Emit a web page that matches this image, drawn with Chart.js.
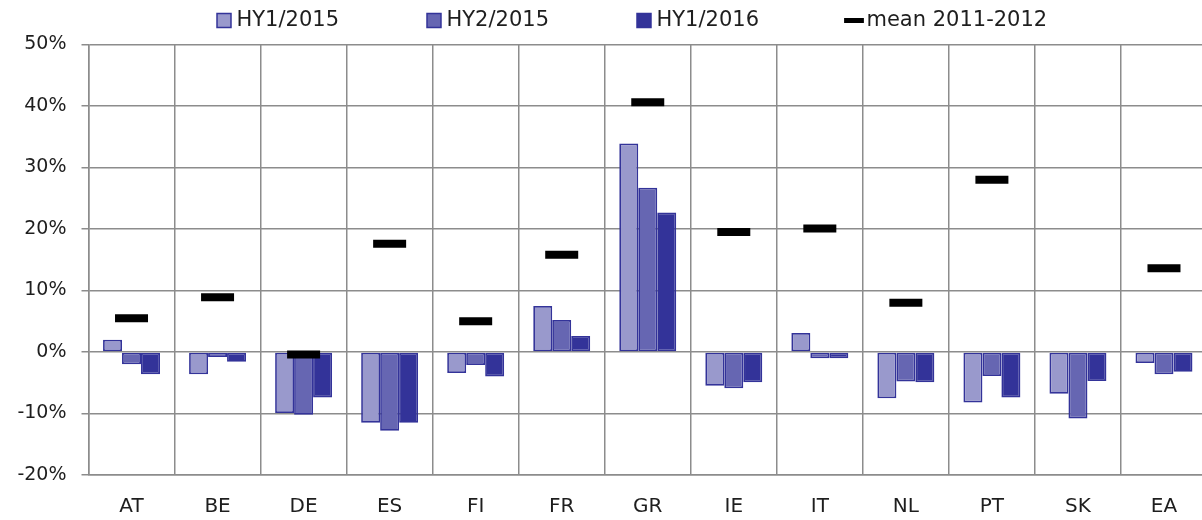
<!DOCTYPE html>
<html>
<head>
<meta charset="utf-8">
<title>HY results vs mean 2011-2012</title>
<script src="https://cdn.jsdelivr.net/npm/chart.js@4/dist/chart.umd.min.js"></script>
<style>
    html, body { margin: 0; padding: 0; background: #ffffff; overflow: hidden; }
    #wrap { width: 1207px; height: 520px; }
</style>
</head>
<body>
<div id="wrap"><canvas id="chart" width="1207" height="520"></canvas></div>
<script>
// ── Data (percent) ──
var countries = ['AT', 'BE', 'DE', 'ES', 'FI', 'FR', 'GR', 'IE', 'IT', 'NL', 'PT', 'SK', 'EA'];
var hy1_2015 = [2.0, -3.6, -9.9, -11.5, -3.4, 7.5, 33.9, -5.5, 3.1, -7.5, -8.2, -6.8, -1.8];
var hy2_2015 = [-2.0, -0.8, -10.2, -12.8, -2.1, 5.2, 26.7, -5.9, -1.0, -4.8, -3.9, -10.8, -3.6];
var hy1_2016 = [-3.6, -1.6, -7.4, -11.5, -4.0, 2.6, 22.7, -4.9, -1.0, -4.9, -7.4, -4.7, -3.2];
var mean_2011_2012 = [5.5, 8.9, -0.4, 17.6, 5.0, 15.8, 40.6, 19.5, 20.1, 8.0, 28.0, null, 13.6];
var seriesNames = ['HY1/2015', 'HY2/2015', 'HY1/2016', 'mean 2011-2012'];
var yTicks = { min: -20, max: 50, step: 10 };

var GRID = '#8c8c8c';
var TEXT = '#1e1e1e';
var EDGE = '#333399';

Chart.defaults.font.family = "'DejaVu Sans', sans-serif";
Chart.defaults.color = TEXT;

var LEGEND_PAD = 93;

// ── Legend placement (keeps the plot area where it belongs) ──
var legendPlace = {
    id: 'legendPlace',
    afterLayout: function (chart) {
        var lg = chart.legend;
        if (!lg) return;
        lg.top = 10 - LEGEND_PAD;
        lg.left = 222 - LEGEND_PAD;
        lg.right = lg.left + 1100;
    }
};

function barSet(label, data, fill) {
    return {
        type: 'bar',
        label: label,
        data: data,
        backgroundColor: fill,
        borderColor: EDGE,
        borderWidth: 1.75,
        borderSkipped: false,
        categoryPercentage: 0.662,
        barPercentage: 1.0
    };
}

new Chart(document.getElementById('chart'), {
    data: {
        labels: countries,
        datasets: [
            barSet(seriesNames[0], hy1_2015, '#9999cc'),
            barSet(seriesNames[1], hy2_2015, '#6666b2'),
            barSet(seriesNames[2], hy1_2016, '#333399'),
            {
                type: 'line',
                label: seriesNames[3],
                data: mean_2011_2012,
                showLine: false,
                order: -1,
                pointStyle: 'line',
                pointRadius: 16.5,
                pointHoverRadius: 16.5,
                pointBorderWidth: 8,
                pointBorderColor: '#000000',
                pointBackgroundColor: '#000000',
                borderColor: '#000000',
                backgroundColor: '#000000'
            }
        ]
    },
    options: {
        responsive: false,
        animation: false,
        layout: { padding: 0, autoPadding: false },
        plugins: {
            tooltip: { enabled: false },
            legend: {
                position: 'top',
                align: 'start',
                maxHeight: 44.5,
                labels: {
                    usePointStyle: true,
                    boxWidth: 4,
                    boxHeight: 14,
                    padding: LEGEND_PAD,
                    color: TEXT,
                    font: { size: 21 },
                    generateLabels: function (chart) {
                        var items = Chart.defaults.plugins.legend.labels.generateLabels(chart);
                        items.sort(function (a, b) { return a.datasetIndex - b.datasetIndex; });
                        items.forEach(function (it) {
                            if (it.datasetIndex === 3) {
                                it.pointStyle = 'line';
                                it.lineWidth = 5;
                                it.strokeStyle = '#000000';
                                it.fillStyle = '#000000';
                            } else {
                                it.pointStyle = 'rect';
                                it.lineWidth = 1.5;
                                it.strokeStyle = EDGE;
                            }
                        });
                        return items;
                    }
                }
            }
        },
        scales: {
            x: {
                offset: true,
                grid: { offset: true, color: GRID, lineWidth: 1.5, drawTicks: false },
                border: { color: GRID, width: 1.5 },
                ticks: { padding: 20, color: TEXT, font: { size: 20 } },
                afterFit: function (scale) { scale.height = 45; }
            },
            y: {
                min: yTicks.min,
                max: yTicks.max,
                grid: { color: GRID, lineWidth: 1.5, tickLength: 7 },
                border: { color: GRID, width: 1.5 },
                ticks: {
                    stepSize: yTicks.step,
                    padding: 15,
                    color: TEXT,
                    font: { size: 19 },
                    callback: function (v) { return v + '%'; }
                },
                afterFit: function (scale) { scale.width = 88.5; }
            }
        }
    },
    plugins: [legendPlace]
});
</script>
</body>
</html>
